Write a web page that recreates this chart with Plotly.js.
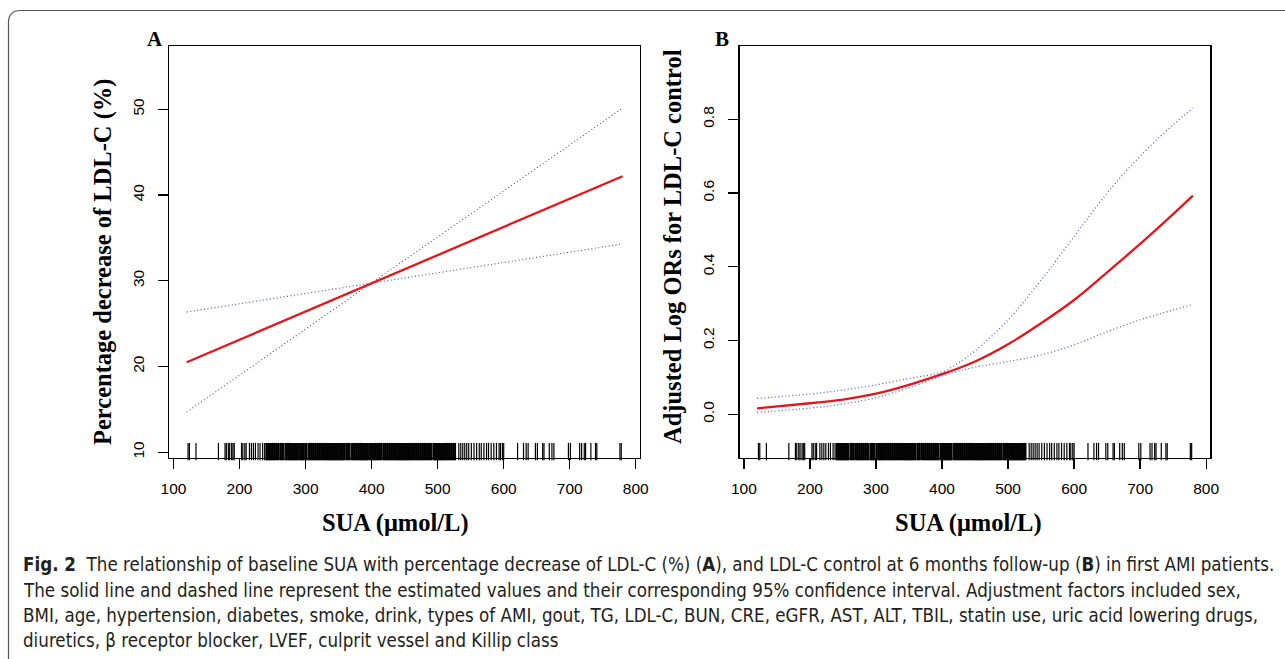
<!DOCTYPE html>
<html><head><meta charset="utf-8">
<script src="https://cdn.plot.ly/plotly-3.0.1.min.js"></script>
<style>html,body{margin:0;padding:0;background:#fff;} #chart{width:1285px;height:659px;}</style>
</head><body><div id="chart"></div>
<script>
// ---- data ----
const suaRug = [122,124,134,168,178,180,183,185,188,190,192,203,205,208,210,215,218,221,224,228,231,235,238,
240,241,242,243,244,245,246,247,248,249,250,251,252,253,254,255,256,257,258,259,261,262,263,264,265,266,267,269,270,
271,272,273,274,275,276,277,278,279,280,281,282,283,284,285,286,287,288,289,291,292,293,294,295,296,297,298,300,
301,302,304,305,306,307,308,309,310,311,312,313,314,315,316,317,318,319,320,321,322,323,324,325,326,327,328,329,330,
331,332,333,334,335,336,337,338,339,340,341,342,343,344,345,346,347,348,349,350,351,352,353,354,355,356,357,358,359,360,
362,363,364,365,366,367,369,370,371,372,373,374,375,376,377,378,379,380,381,382,383,384,385,386,387,388,389,390,
391,392,393,394,395,397,398,399,400,401,402,403,404,405,406,407,408,409,410,411,412,413,414,415,417,418,419,420,
421,422,423,424,425,426,427,428,429,430,431,432,433,434,435,436,437,438,439,440,441,442,443,444,445,446,447,448,449,450,
451,452,453,454,455,456,457,458,459,460,461,462,463,464,465,466,467,468,469,470,471,472,473,474,475,476,477,478,479,480,
481,482,483,484,485,486,487,488,489,490,491,493,494,495,496,497,498,499,500,501,502,503,504,505,506,507,508,509,510,
511,512,513,514,515,516,517,518,519,520,521,522,523,524,525,526,527,
532,535,538,541,544,547,551,555,559,563,566,570,574,577,581,585,589,593,595,598,600,621,630,634,637,648,651,659,661,669,673,676,698,701,715,718,722,724,732,739,741,776,778];

const aX = [120, 400, 780];
const aFit = [20.5, 29.7, 42.2];
const aCI1 = [14.7, 29.74, 50.15];
const aCI2 = [26.36, 29.73, 34.3];

const bX = [120, 200, 250, 300, 350, 400, 425, 450, 500, 550, 600, 650, 700, 750, 780];
const bFit = [0.016, 0.030, 0.040, 0.056, 0.080, 0.109, 0.125, 0.143, 0.190, 0.247, 0.310, 0.385, 0.462, 0.543, 0.593];
const bUpper = [0.043, 0.055, 0.066, 0.080, 0.097, 0.115, 0.140, 0.172, 0.256, 0.364, 0.482, 0.600, 0.700, 0.785, 0.830];
const bLower = [0.005, 0.017, 0.028, 0.045, 0.072, 0.104, 0.117, 0.128, 0.143, 0.161, 0.188, 0.224, 0.256, 0.283, 0.298];

const xTicks = [100, 200, 300, 400, 500, 600, 700, 800];
const aYTicks = [10, 20, 30, 40, 50];
const bYTicks = [0.0, 0.2, 0.4, 0.6, 0.8];

const captionLines = [
 "<b>Fig. 2</b>  The relationship of baseline SUA with percentage decrease of LDL-C (%) (<b>A</b>), and LDL-C control at 6 months follow-up (<b>B</b>) in first AMI patients.",
 "The solid line and dashed line represent the estimated values and their corresponding 95% confidence interval. Adjustment factors included sex,",
 "BMI, age, hypertension, diabetes, smoke, drink, types of AMI, gout, TG, LDL-C, BUN, CRE, eGFR, AST, ALT, TBIL, statin use, uric acid lowering drugs,",
 "diuretics, β receptor blocker, LVEF, culprit vessel and Killip class"
];

// ---- layout helpers ----
const W = 1285, H = 659;
const px = v => v / W;
const py = v => 1 - v / H;
const xRange = [93.6, 806.4];
const aYRange = [9.37, 57.35];
const bYRange = [-0.1177, 0.998];
const plotTop = 46.3, plotBottom = 457.7;
const rugLen = 0.03 * (plotBottom - plotTop);

function rugTrace(yr, xa, ya) {
  const mid = yr[0] + 0.015 * (yr[1] - yr[0]);
  return {x: suaRug, y: suaRug.map(() => mid), xaxis: xa, yaxis: ya, mode: 'markers', type: 'scatter',
          marker: {symbol: 'line-ns', size: rugLen, color: '#000', line: {color: '#000', width: 1.2}},
          cliponaxis: false, hoverinfo: 'skip'};
}
const dotLine = {color: 'rgba(50,70,205,0.9)', width: 1.2, dash: '1px,2.5px'};
const redLine = {color: '#e4161c', width: 2.3};
const sm = o => Object.assign({shape: 'spline', smoothing: 1}, o);

const traces = [
  rugTrace(aYRange, 'x', 'y'),
  {x: aX, y: aCI1, mode: 'lines', line: dotLine, xaxis: 'x', yaxis: 'y'},
  {x: aX, y: aCI2, mode: 'lines', line: dotLine, xaxis: 'x', yaxis: 'y'},
  {x: aX, y: aFit, mode: 'lines', line: redLine, xaxis: 'x', yaxis: 'y'},
  rugTrace(bYRange, 'x2', 'y2'),
  {x: bX, y: bUpper, mode: 'lines', line: sm(dotLine), xaxis: 'x2', yaxis: 'y2'},
  {x: bX, y: bLower, mode: 'lines', line: sm(dotLine), xaxis: 'x2', yaxis: 'y2'},
  {x: bX, y: bFit, mode: 'lines', line: sm(redLine), xaxis: 'x2', yaxis: 'y2'}
];

const tickFont = {family: 'Liberation Sans, Arial, sans-serif', size: 15.5, color: '#000'};
const axBase = {showline: true, linecolor: '#000', linewidth: 1.3, mirror: true,
  ticks: 'outside', ticklen: 10, tickwidth: 1.3, tickcolor: '#000',
  showgrid: false, zeroline: false, tickfont: tickFont, fixedrange: true};
const yDom = [py(plotBottom), py(plotTop)];

const titleFont = {family: 'Liberation Serif, Times New Roman, serif', size: 24.5, color: '#000'};
const capFont = {family: 'DejaVu Sans Condensed, Liberation Sans Narrow, sans-serif', size: 18.6, color: '#231f20'};
const capY = [564, 590, 615, 640];

const annotations = [
  {text: '<b>SUA (μmol/L)</b>', x: px(395), y: py(523), font: titleFont},
  {text: '<b>SUA (μmol/L)</b>', x: px(968), y: py(523), font: titleFont},
  {text: '<b>Percentage decrease of LDL-C (%)</b>', x: px(103), y: py(262), textangle: -90, font: titleFont},
  {text: '<b>Adjusted Log ORs for LDL-C control</b>', x: px(672), y: py(247), textangle: -90, font: titleFont},
  {text: '<b>A</b>', x: px(155), y: py(39), font: Object.assign({}, titleFont, {size: 21})},
  {text: '<b>B</b>', x: px(722), y: py(39), font: Object.assign({}, titleFont, {size: 21})}
].map(a => Object.assign({xref: 'paper', yref: 'paper', showarrow: false, xanchor: 'center', yanchor: 'middle'}, a));

captionLines.forEach((t, i) => annotations.push({text: t, xref: 'paper', yref: 'paper',
  x: px(21), y: py(capY[i]), xanchor: 'left', yanchor: 'middle', showarrow: false, font: capFont}));

const border = `M ${px(8.5)},${py(720)} L ${px(8.5)},${py(22.5)} Q ${px(8.5)},${py(10.5)} ${px(20.5)},${py(10.5)} L ${px(1320)},${py(10.5)}`;

const layout = {
  width: W, height: H, margin: {l: 0, r: 0, t: 0, b: 0},
  paper_bgcolor: '#fff', plot_bgcolor: '#fff', showlegend: false, hovermode: false,
  xaxis: Object.assign({}, axBase, {domain: [px(169.3), px(640)], range: xRange, tickvals: xTicks, anchor: 'y', ticklabelstandoff: 6}),
  yaxis: Object.assign({}, axBase, {domain: yDom, range: aYRange, tickvals: aYTicks, tickangle: -90, anchor: 'x', ticklabelstandoff: 8}),
  xaxis2: Object.assign({}, axBase, {domain: [px(739.7), px(1210.4)], range: xRange, tickvals: xTicks, anchor: 'y2', ticklabelstandoff: 6}),
  yaxis2: Object.assign({}, axBase, {domain: yDom, range: bYRange, tickvals: bYTicks, tickformat: '.1f', tickangle: -90, anchor: 'x2', ticklabelstandoff: 8}),
  annotations: annotations,
  shapes: [{type: 'path', xref: 'paper', yref: 'paper', path: border, line: {color: '#555', width: 1.2}}]
};

Plotly.newPlot('chart', traces, layout, {staticPlot: true, displayModeBar: false});
</script>
</body></html>
